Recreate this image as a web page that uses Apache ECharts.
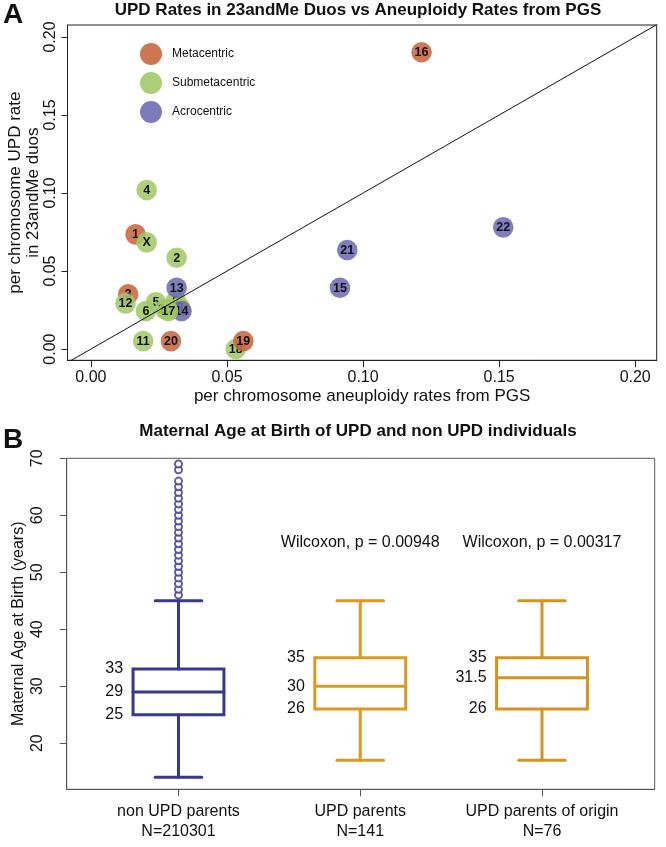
<!DOCTYPE html>
<html>
<head>
<meta charset="utf-8">
<script src="https://cdn.jsdelivr.net/npm/echarts@6/dist/echarts.min.js"></script>
<style>
  html, body { margin: 0; padding: 0; background: #fff; }
  #main { width: 666px; height: 847px; }
</style>
</head>
<body>
<div id="main"></div>
<script>
// ---- panel A: per chromosome rates ----
var chromosomes = ['1','2','3','4','5','6','7','8','9','10','11','12','13','14','15','16','17','18','19','20','21','22','X'];
var pgsRate = [0.0164, 0.0315, 0.0137, 0.0205, 0.0239, 0.0202, 0.0290, 0.0312, 0.0327, 0.0272, 0.0192, 0.0127,
               0.0315, 0.0333, 0.0915, 0.1215, 0.0284, 0.0532, 0.0560, 0.0294, 0.0942, 0.1515, 0.0205];
var updRate = [0.0735, 0.0585, 0.0351, 0.1019, 0.0300, 0.0244, 0.0256, 0.0308, 0.0269, 0.0256, 0.0051, 0.0293,
               0.0393, 0.0244, 0.0393, 0.1902, 0.0244, 0.0000, 0.0051, 0.0051, 0.0635, 0.0780, 0.0684];
var centromere = ['Metacentric','Submetacentric','Metacentric','Submetacentric','Submetacentric','Submetacentric',
                  'Submetacentric','Submetacentric','Submetacentric','Submetacentric','Submetacentric','Submetacentric',
                  'Acrocentric','Acrocentric','Acrocentric','Metacentric','Submetacentric','Submetacentric',
                  'Metacentric','Metacentric','Acrocentric','Acrocentric','Submetacentric'];
var centromereTypes = ['Metacentric', 'Submetacentric', 'Acrocentric'];
var ticksA = [0, 0.05, 0.10, 0.15, 0.20];

// ---- panel B: maternal age boxplots ----
var groups = ['non UPD parents', 'UPD parents', 'UPD parents of origin'];
var groupN = ['N=210301', 'N=141', 'N=76'];
var whiskerLow = [14, 17, 17];
var quartile1 = [25, 26, 26];
var medians = [29, 30, 31.5];
var quartile3 = [33, 35, 35];
var whiskerHigh = [45, 45, 45];
var outliersNonUPD = [46, 47, 48, 49, 50, 51, 52, 53, 54, 55, 56, 57, 58, 59, 60, 61, 62, 63, 64, 65, 66, 68, 69];
var wilcoxon = ['Wilcoxon, p = 0.00948', 'Wilcoxon, p = 0.00317'];
var ticksB = [20, 30, 40, 50, 60, 70];

var FONT = 'Liberation Sans';
var typeColors = { Metacentric: '#C7683F', Submetacentric: '#A3C968', Acrocentric: '#706CB4' };
var boxColors = ['#38388C', '#DA9A24', '#D4951F'];

var pointData = chromosomes.map(function (c, i) { return [pgsRate[i], updRate[i], i]; });
var boxData = groups.map(function (g, i) {
  return [i + 1, whiskerLow[i], quartile1[i], medians[i], quartile3[i], whiskerHigh[i]];
});

var chart = echarts.init(document.getElementById('main'));

chart.setOption({
  animation: false,
  textStyle: { fontFamily: FONT },
  title: [
    { text: 'A', left: 3, top: 1, padding: 0, textStyle: { fontSize: 28, fontWeight: 'bold', color: '#111', fontFamily: FONT } },
    { text: 'UPD Rates in 23andMe Duos vs Aneuploidy Rates from PGS', left: 358, top: 2, textAlign: 'center', padding: 0,
      textStyle: { fontSize: 17, fontWeight: 'bold', color: '#111', fontFamily: FONT } },
    { text: 'B', left: 3, top: 426, padding: 0, textStyle: { fontSize: 28, fontWeight: 'bold', color: '#111', fontFamily: FONT } },
    { text: 'Maternal Age at Birth of UPD and non UPD individuals', left: 358, top: 423, textAlign: 'center', padding: 0,
      textStyle: { fontSize: 17, fontWeight: 'bold', color: '#111', fontFamily: FONT } }
  ],
  legend: {
    data: centromereTypes,
    orient: 'vertical', left: 140, top: 43, padding: 0,
    itemWidth: 22, itemHeight: 22, itemGap: 7, icon: 'circle',
    selectedMode: false,
    textStyle: { fontSize: 12, color: '#111', padding: [0, 0, 0, 5], fontFamily: FONT }
  },
  grid: [
    { left: 67.5, top: 25, right: 9.3, bottom: 486.7, show: true, borderColor: '#222', borderWidth: 1,
      containLabel: false, outerBoundsMode: 'none' },
    { left: 66.7, top: 458.3, right: 11.3, bottom: 57.7, show: true, borderColor: '#555', borderWidth: 1,
      containLabel: false, outerBoundsMode: 'none' }
  ],
  xAxis: [
    {
      gridIndex: 0, type: 'value', min: -0.0086, max: 0.2079,
      axisLine: { show: true, onZero: false, lineStyle: { color: '#222' } }, splitLine: { show: false },
      axisTick: { show: true, length: 7, lineStyle: { color: '#222' }, customValues: ticksA },
      axisLabel: { customValues: ticksA, fontSize: 16, color: '#111', margin: 9,
                   formatter: function (v) { return v.toFixed(2); } },
      name: 'per chromosome aneuploidy rates from PGS', nameLocation: 'middle', nameGap: 28, nameMoveOverlap: false,
      nameTextStyle: { fontSize: 17, color: '#111' }
    },
    {
      gridIndex: 1, type: 'value', min: 0.385, max: 3.62,
      axisLine: { show: true, onZero: false, lineStyle: { color: '#555' } }, splitLine: { show: false },
      axisTick: { show: true, length: 7, lineStyle: { color: '#555' }, customValues: [1, 2, 3] },
      axisLabel: { customValues: [1, 2, 3], fontSize: 16, color: '#111', margin: 12, lineHeight: 20,
                   formatter: function (v) { var i = Math.round(v) - 1; return groups[i] + '\n' + groupN[i]; } }
    }
  ],
  yAxis: [
    {
      gridIndex: 0, type: 'value', min: -0.0072, max: 0.2077,
      axisLine: { show: true, onZero: false, lineStyle: { color: '#222' } }, splitLine: { show: false },
      axisTick: { show: true, length: 6, lineStyle: { color: '#222' }, customValues: ticksA },
      axisLabel: { customValues: ticksA, fontSize: 16, color: '#111', margin: 9, rotate: 90,
                   formatter: function (v) { return v.toFixed(2); } },
      name: 'per chromosome UPD rate\nin 23andMe duos', nameLocation: 'middle', nameGap: 25.5, nameRotate: 90,
      nameMoveOverlap: false,
      nameTextStyle: { fontSize: 17, color: '#111', lineHeight: 18 }
    },
    {
      gridIndex: 1, type: 'value', min: 11.9, max: 70,
      axisLine: { show: true, onZero: false, lineStyle: { color: '#555' } }, splitLine: { show: false },
      axisTick: { show: true, length: 7, lineStyle: { color: '#555' }, customValues: ticksB },
      axisLabel: { customValues: ticksB, fontSize: 16, color: '#111', margin: 21, rotate: 90 },
      name: 'Maternal Age at Birth (years)', nameLocation: 'middle', nameGap: 40.5, nameRotate: 90,
      nameMoveOverlap: false,
      nameTextStyle: { fontSize: 16, color: '#111' }
    }
  ],
  series: [
    // legend entries only
    { name: 'Metacentric', type: 'scatter', xAxisIndex: 0, yAxisIndex: 0, data: [], itemStyle: { color: typeColors.Metacentric, opacity: 0.9 } },
    { name: 'Submetacentric', type: 'scatter', xAxisIndex: 0, yAxisIndex: 0, data: [], itemStyle: { color: typeColors.Submetacentric, opacity: 0.9 } },
    { name: 'Acrocentric', type: 'scatter', xAxisIndex: 0, yAxisIndex: 0, data: [], itemStyle: { color: typeColors.Acrocentric, opacity: 0.9 } },
    {
      name: 'chromosomes', type: 'custom', xAxisIndex: 0, yAxisIndex: 0, silent: true,
      data: pointData,
      renderItem: function (params, api) {
        var c = api.coord([api.value(0), api.value(1)]);
        var i = params.dataIndex;
        return {
          type: 'group',
          children: [
            { type: 'circle', shape: { cx: c[0], cy: c[1], r: 10.3 },
              style: { fill: typeColors[centromere[i]], opacity: 0.88 } },
            { type: 'text', style: { x: c[0], y: c[1] + 0.5, text: chromosomes[i], align: 'center', verticalAlign: 'middle',
              font: 'bold 12.5px ' + FONT, fill: '#111' } }
          ]
        };
      }
    },
    {
      name: 'y = x', type: 'line', xAxisIndex: 0, yAxisIndex: 0, silent: true, symbol: 'none',
      data: [[-0.01, -0.01], [0.21, 0.21]], clip: true,
      lineStyle: { color: '#111', width: 1 }
    },
    {
      name: 'boxes', type: 'custom', xAxisIndex: 1, yAxisIndex: 1, silent: true,
      data: boxData,
      renderItem: function (params, api) {
        var pos = api.value(0);
        var col = boxColors[params.dataIndex];
        var lo = api.coord([pos, api.value(1)]);
        var q1 = api.coord([pos, api.value(2)]);
        var md = api.coord([pos, api.value(3)]);
        var q3 = api.coord([pos, api.value(4)]);
        var hi = api.coord([pos, api.value(5)]);
        var hb = api.size([0.25, 0])[0];
        var hc = api.size([0.128, 0])[0];
        var x = lo[0];
        var ls = { stroke: col, lineWidth: 3, lineCap: 'round', fill: null };
        function seg(x1, y1, x2, y2) { return { type: 'line', shape: { x1: x1, y1: y1, x2: x2, y2: y2 }, style: ls }; }
        function lab(y, v) {
          return { type: 'text', style: { x: x - hb - 10, y: y, text: String(v), align: 'right', verticalAlign: 'middle',
                   font: '16px ' + FONT, fill: '#111' } };
        }
        return {
          type: 'group',
          children: [
            seg(x, q3[1], x, hi[1]),
            seg(x, q1[1], x, lo[1]),
            seg(x - hc, hi[1], x + hc, hi[1]),
            seg(x - hc, lo[1], x + hc, lo[1]),
            { type: 'rect', shape: { x: x - hb, y: q3[1], width: 2 * hb, height: q1[1] - q3[1] }, style: ls },
            seg(x - hb, md[1], x + hb, md[1]),
            lab(q3[1], api.value(4)),
            lab(md[1], api.value(3)),
            lab(q1[1], api.value(2))
          ]
        };
      }
    },
    {
      name: 'outliers', type: 'scatter', xAxisIndex: 1, yAxisIndex: 1, silent: true,
      symbol: 'emptyCircle', symbolSize: 7,
      data: outliersNonUPD.map(function (v) { return [1, v]; }),
      itemStyle: { color: boxColors[0], borderColor: boxColors[0], borderWidth: 2.4 }
    },
    {
      name: 'wilcoxon', type: 'custom', xAxisIndex: 1, yAxisIndex: 1, silent: true,
      data: [[2, 55.2], [3, 55.2]],
      renderItem: function (params, api) {
        var c = api.coord([api.value(0), api.value(1)]);
        return { type: 'text', style: { x: c[0], y: c[1], text: wilcoxon[params.dataIndex], align: 'center',
                 verticalAlign: 'middle', font: '16px ' + FONT, fill: '#111' } };
      }
    }
  ]
});
</script>
</body>
</html>
